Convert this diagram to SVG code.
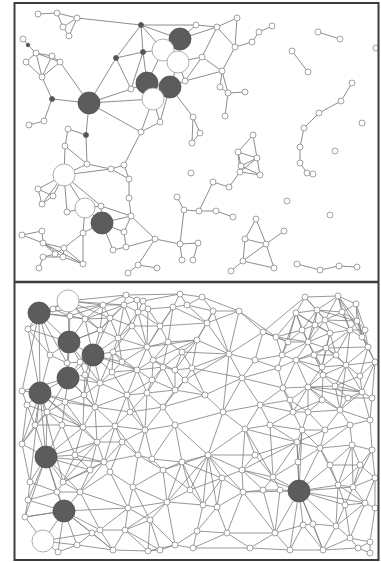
<svg xmlns="http://www.w3.org/2000/svg" width="381" height="563" viewBox="0 0 381 563">
<style>
.e{fill:none;stroke:#7e7e7e;stroke-width:0.8}
.et{fill:none;stroke:#808080;stroke-width:0.9}
.nodes circle{fill:#fff;stroke:#8a8a8a;stroke-width:0.8}
.nodes circle.d{fill:#555;stroke:#555}
.nodes circle.L{fill:#5c5c5c;stroke:#505050}
.nodes circle.W{fill:#fff;stroke:#9a9a9a}
.frame{fill:none;stroke:#3c3c3c;stroke-width:2}
</style>
<rect width="381" height="563" fill="#fff"/>
<g id="connectors">
<path class="et" d="M38 14L57 13 M57 13L63 27 M57 13L77 18 M63 27L77 18 M63 27L69 36 M69 36L77 18 M77 18L141 25
M141 25L116 58 M141 25L143 52 M141 25L163 50 M141 25L180 39 M141 25L196 25
M116 58L89 103 M116 58L143 52 M116 58L131 89
M143 52L131 89 M143 52L147 83 M143 52L163 50
M180 39L163 50 M180 39L178 62 M180 39L196 25 M180 39L217 27
M163 50L178 62 M163 50L147 83
M178 62L202 57 M178 62L170 87 M178 62L185 81
M147 83L170 87 M147 83L153 99 M147 83L131 89
M170 87L153 99 M170 87L185 81 M170 87L160 122 M170 87L193 117
M153 99L160 122 M153 99L141 132 M153 99L89 103
M131 89L89 103
M89 103L60 62 M89 103L52 99 M89 103L141 132 M89 103L86 135
M185 81L202 57 M185 81L222 71
M141 132L160 122 M141 132L124 165
M23 39L28 45 M28 45L36 53 M36 53L52 56 M36 53L26 62 M36 53L42 77 M36 53L60 62 M52 56L60 62 M52 56L42 77 M26 62L42 77 M60 62L42 77 M42 77L52 99
M52 99L44 121 M44 121L29 125
M68 129L86 135 M86 135L87 164 M68 129L65 146
M65 146L64 175 M65 146L87 164 M87 164L111 169 M87 164L64 175
M64 175L111 169 M64 175L38 189 M64 175L53 196 M64 175L42 204 M64 175L67 212 M64 175L85 208 M64 175L101 206
M38 189L53 196 M38 189L42 204 M53 196L42 204
M85 208L67 212 M85 208L101 206 M85 208L83 233 M85 208L102 223
M102 223L101 206 M102 223L131 216 M102 223L124 232 M102 223L113 250 M102 223L83 233
M101 206L131 216
M111 169L124 165 M124 165L129 179 M111 169L129 179 M129 179L129 198 M129 198L131 216 M131 216L124 232 M131 216L155 239 M124 232L126 247 M126 247L113 250 M126 247L155 239
M155 239L138 265 M155 239L180 244 M138 265L157 268 M138 265L128 273
M83 233L64 248 M83 233L83 264
M22 235L42 231 M22 235L43 243 M42 231L43 243 M43 243L64 248 M43 243L55 254 M43 243L63 257 M43 243L83 264 M55 254L64 248 M64 248L63 257 M43 257L55 254 M43 257L39 268 M43 257L63 257 M63 257L83 264 M64 248L83 264
M177 197L184 210 M184 210L199 211 M199 211L216 211 M216 211L233 217 M199 211L213 182 M213 182L229 187 M229 187L240 172 M184 210L180 244 M180 244L182 260 M180 244L198 243 M198 243L193 260
M253 135L238 152 M253 135L257 158 M238 152L257 158 M238 152L241 166 M257 158L241 166 M257 158L240 172 M241 166L260 175 M240 172L260 175 M257 158L260 175 M238 152L240 172
M196 25L217 27 M217 27L237 18 M217 27L235 47 M237 18L235 47 M235 47L252 42 M252 42L259 32 M259 32L272 26 M235 47L222 71 M222 71L202 57 M202 57L217 27 M222 71L220 87 M222 71L228 93 M220 87L228 93 M228 93L245 92 M228 93L225 116
M193 117L200 133 M200 133L192 143 M193 117L192 143
M256 219L245 239 M256 219L266 244 M245 239L266 244 M245 239L243 261 M266 244L284 231 M266 244L243 261 M266 244L274 268 M243 261L274 268 M243 261L231 271
M297 264L320 270 M320 270L339 266 M339 266L357 267
M352 83L341 101 M341 101L319 113 M319 113L304 128 M304 128L300 147 M300 147L300 163 M300 163L307 173 M307 173L313 174
M318 32L340 39 M292 51L308 72"/>
<path class="e" d="M39 313L68 301 M39 313L53 309 M39 313L28 329 M39 313L70 316 M39 313L69 342 M39 313L50 355 M39 313L40 393 M39 313L22 391 M39 313L67 363
M68 301L53 309 M68 301L70 316 M68 301L103 305 M68 301L85 319 M68 301L126 295
M53 309L70 316 M53 309L28 329
M70 316L85 319 M70 316L69 342 M70 316L103 305
M85 319L103 305 M85 319L100 330 M85 319L69 342 M85 319L93 355 M85 319L124 305
M103 305L124 305 M103 305L126 295 M103 305L100 330
M124 305L126 295 M124 305L137 300 M124 305L138 312 M124 305L100 330 M124 305L118 338
M126 295L137 300 M126 295L180 294
M137 300L143 301 M137 300L138 312
M143 301L148 309 M143 301L138 312 M143 301L180 294
M138 312L148 309 M138 312L118 338 M138 312L147 347
M148 309L173 307 M148 309L147 347
M173 307L180 294 M173 307L187 305 M173 307L147 347 M173 307L207 323
M180 294L187 305 M180 294L202 297
M187 305L202 297 M187 305L213 311 M187 305L207 323
M202 297L213 311 M202 297L239 311
M213 311L239 311 M213 311L207 323 M213 311L197 340
M239 311L263 332 M239 311L276 337 M239 311L207 323 M239 311L229 354
M28 329L69 342 M28 329L50 355 M28 329L40 393
M100 330L118 338 M100 330L93 355 M100 330L69 342
M118 338L113 352 M118 338L147 347 M118 338L93 355
M147 347L153 360 M147 347L113 352 M147 347L137 370 M147 347L197 340
M50 355L69 342 M50 355L67 363 M50 355L40 393
M113 352L93 355 M113 352L137 370 M113 352L100 383
M69 342L93 355 M69 342L67 363 M69 342L80 362
M93 355L80 362 M93 355L85 375 M93 355L100 383 M93 355L137 370
M207 323L197 340 M207 323L229 354
M197 340L192 368 M197 340L175 370 M197 340L229 354 M197 340L153 360
M263 332L276 337 M263 332L229 354 M263 332L255 360 M263 332L305 297
M276 337L282 355 M276 337L296 313 M276 337L308 342
M229 354L255 360 M229 354L242 378 M229 354L192 368
M305 297L338 296 M305 297L296 313 M305 297L317 310 M305 297L325 320
M338 296L317 310 M338 296L325 320 M338 296L357 321 M338 296L350 330 M338 296L362 337
M296 313L317 310 M296 313L308 342 M296 313L282 355 M296 313L330 333
M317 310L325 320 M317 310L308 342 M317 310L357 321
M325 320L330 333 M325 320L350 330 M325 320L308 342 M325 320L357 321
M357 321L350 330 M357 321L362 337 M357 321L368 347
M330 333L350 330 M330 333L308 342 M330 333L326 348 M330 333L322 367
M350 330L362 337 M350 330L326 348 M350 330L346 365
M362 337L368 347 M362 337L375 362
M368 347L375 362 M368 347L346 365 M368 347L326 348
M375 362L362 392 M375 362L346 365
M308 342L326 348 M308 342L296 360 M308 342L282 355 M308 342L322 367
M326 348L322 367 M326 348L346 365 M326 348L296 360
M282 355L278 368 M282 355L296 360 M282 355L255 360
M278 368L296 360 M278 368L283 388 M278 368L255 360 M278 368L242 378
M296 360L322 367 M296 360L308 387 M296 360L323 375 M296 360L283 388
M322 367L346 365 M322 367L323 375 M322 367L308 387
M346 365L362 392 M346 365L323 375 M346 365L340 410
M323 375L308 387 M323 375L362 392
M283 388L308 387 M283 388L293 412 M283 388L242 378 M283 388L260 405
M308 387L308 412 M308 387L362 392 M308 387L340 410 M308 387L293 412
M362 392L340 410 M362 392L370 420
M293 412L308 412 M293 412L260 405 M293 412L302 430 M293 412L270 425
M308 412L340 410 M308 412L325 430 M308 412L302 430
M80 362L85 375 M80 362L68 378 M67 363L68 378 M67 363L80 362
M137 370L153 360 M137 370L127 395 M137 370L100 383 M137 370L163 367 M137 370L147 393
M153 360L163 367 M153 360L175 370
M163 367L175 370 M163 367L175 390 M163 367L147 393
M175 370L185 380 M175 370L192 368 M175 370L175 390
M185 380L175 390 M185 380L192 368 M185 380L205 395 M185 380L163 407
M100 383L85 375 M100 383L127 395 M100 383L95 407 M100 383L68 378
M85 375L68 378 M85 375L95 407
M68 378L40 393 M68 378L65 402 M68 378L95 407 M68 378L22 391
M40 393L22 391 M40 393L65 402 M40 393L47 412 M40 393L27 405 M40 393L46 457 M40 393L22 444 M40 393L83 427
M192 368L205 395 M192 368L242 378
M255 360L242 378
M242 378L223 412 M242 378L205 395 M242 378L260 405
M65 402L47 412 M65 402L95 407 M65 402L83 427
M127 395L147 393 M127 395L95 407 M127 395L115 426 M127 395L145 430
M147 393L163 407 M147 393L175 390 M147 393L145 430
M163 407L175 390 M163 407L175 425 M163 407L145 430 M163 407L205 395
M175 390L205 395
M95 407L83 427 M95 407L115 426 M95 407L97 442
M47 412L27 405 M47 412L83 427 M47 412L22 444 M47 412L46 457
M27 405L22 444 M27 405L22 391
M223 412L205 395 M223 412L260 405 M223 412L245 429 M223 412L175 425 M223 412L208 455
M260 405L270 425 M260 405L245 429
M340 410L350 425 M340 410L370 420 M340 410L325 430
M370 420L350 425 M370 420L372 450
M350 425L325 430 M350 425L352 445 M350 425L320 448
M175 425L145 430 M175 425L182 462 M175 425L208 455 M175 425L152 459
M145 430L115 426 M145 430L138 455 M145 430L152 459
M270 425L245 429 M270 425L302 430 M270 425L297 442 M270 425L273 477
M325 430L302 430 M325 430L320 448 M325 430L297 442
M83 427L97 442 M83 427L46 457 M83 427L115 426
M115 426L97 442 M115 426L138 455 M115 426L104 462
M22 444L46 457 M22 444L30 482
M97 442L104 462 M97 442L46 457 M97 442L63 482
M104 462L110 472 M104 462L138 455 M104 462L63 482 M104 462L80 492
M110 472L133 487 M110 472L80 492 M110 472L128 508
M138 455L152 459 M138 455L133 487 M138 455L163 470
M152 459L163 470 M152 459L182 462
M182 462L163 470 M182 462L208 455 M182 462L167 502 M182 462L203 505
M163 470L133 487 M163 470L167 502
M245 429L208 455 M245 429L242 470 M245 429L297 442 M245 429L273 477
M302 430L297 442 M302 430L320 448
M297 442L273 477 M297 442L299 491 M297 442L242 470 M297 442L320 448
M208 455L242 470 M208 455L243 492 M208 455L203 505 M208 455L217 507 M208 455L167 502 M208 455L163 470
M242 470L273 477 M242 470L243 492 M242 470L263 490 M242 470L299 491
M273 477L263 490 M273 477L280 490 M273 477L299 491
M320 448L352 445 M320 448L299 491 M320 448L338 485
M352 445L372 450 M352 445L338 485 M352 445L353 487
M372 450L375 478 M372 450L353 487
M46 457L30 482 M46 457L63 482 M46 457L57 492 M46 457L28 500 M46 457L64 511
M30 482L28 500 M30 482L57 492
M63 482L57 492 M63 482L80 492
M57 492L64 511 M57 492L28 500 M57 492L80 492
M80 492L64 511 M80 492L128 508 M80 492L100 530
M133 487L128 508 M133 487L167 502
M167 502L128 508 M167 502L203 505 M167 502L175 545 M167 502L125 530
M128 508L125 530 M128 508L100 530
M28 500L25 517 M28 500L64 511
M25 517L43 541 M25 517L64 511
M243 492L263 490 M243 492L217 507 M243 492L227 533 M243 492L275 533
M263 490L280 490 M263 490L275 533
M280 490L299 491 M280 490L275 533
M203 505L217 507 M203 505L197 531
M217 507L227 533 M217 507L197 531
M299 491L338 485 M299 491L303 525 M299 491L313 524 M299 491L275 533 M299 491L336 526
M338 485L353 487 M338 485L365 503 M338 485L336 526
M353 487L375 478 M353 487L365 503
M375 478L375 508 M375 478L365 503
M365 503L375 508 M365 503L350 538 M365 503L336 526
M375 508L370 542
M64 511L43 541 M64 511L92 533 M64 511L77 545 M64 511L58 552 M64 511L100 530
M100 530L92 533 M100 530L125 530 M100 530L113 550
M92 533L77 545 M92 533L113 550
M125 530L113 550 M125 530L148 551 M125 530L160 550
M77 545L58 552 M77 545L113 550
M113 550L148 551
M148 551L160 550 M148 551L175 545
M58 552L43 541
M175 545L160 550 M175 545L197 531 M175 545L193 548
M197 531L227 533 M197 531L193 548
M227 533L275 533 M227 533L250 548 M227 533L193 548
M275 533L303 525 M275 533L290 550 M275 533L250 548
M303 525L313 524 M303 525L290 550 M303 525L323 550
M313 524L336 526 M313 524L323 550
M336 526L350 538 M336 526L323 550
M350 538L370 542 M350 538L358 548 M350 538L323 550
M370 542L370 553 M370 542L358 548
M323 550L358 548 M323 550L290 550
M358 548L370 553
M193 548L250 548
M250 548L290 550
M43 541L77 545"/>
<path class="e" d="M110 318L103 305 M110 318L124 305 M110 318L100 330 M110 318L118 338 M110 318L85 319 M110 318L132 326 M110 318L93 355 M110 318L68 301
M132 326L138 312 M132 326L118 338 M132 326L147 347 M132 326L160 326 M132 326L124 305 M132 326L113 352
M160 326L148 309 M160 326L173 307 M160 326L168 342 M160 326L147 347 M160 326L207 323 M160 326L138 312
M168 342L147 347 M168 342L182 352 M168 342L153 360 M168 342L163 367 M168 342L197 340 M168 342L173 307
M182 352L197 340 M182 352L175 370 M182 352L192 368 M182 352L163 367 M182 352L229 354
M122 362L113 352 M122 362L137 370 M122 362L112 372 M122 362L147 347 M122 362L93 355 M122 362L118 338
M152 380L137 370 M152 380L163 367 M152 380L147 393 M152 380L175 390 M152 380L153 360 M152 380L127 395
M112 372L100 383 M112 372L113 352 M112 372L127 395 M112 372L93 355 M112 372L137 370
M84 395L68 378 M84 395L100 383 M84 395L95 407 M84 395L65 402 M84 395L85 375 M84 395L83 427
M130 412L127 395 M130 412L95 407 M130 412L115 426 M130 412L145 430 M130 412L163 407 M130 412L147 393
M62 425L47 412 M62 425L65 402 M62 425L83 427 M62 425L46 457 M62 425L35 425 M62 425L75 455
M75 455L46 457 M75 455L83 427 M75 455L97 442 M75 455L104 462 M75 455L63 482 M75 455L90 470
M90 470L104 462 M90 470L63 482 M90 470L80 492 M90 470L97 442 M90 470L46 457
M122 442L115 426 M122 442L97 442 M122 442L104 462 M122 442L138 455 M122 442L145 430 M122 442L110 472
M35 425L47 412 M35 425L22 444 M35 425L40 393 M35 425L46 457 M35 425L27 405
M315 325L317 310 M315 325L325 320 M315 325L296 313 M315 325L308 342 M315 325L330 333 M315 325L302 330
M342 312L338 296 M342 312L317 310 M342 312L325 320 M342 312L357 321 M342 312L350 330 M342 312L356 304
M356 304L338 296 M356 304L357 321 M356 304L362 337 M356 304L365 330
M302 330L296 313 M302 330L308 342 M302 330L288 342 M302 330L276 337 M302 330L317 310
M288 342L276 337 M288 342L282 355 M288 342L308 342 M288 342L296 313 M288 342L263 332
M336 355L326 348 M336 355L346 365 M336 355L322 367 M336 355L330 333 M336 355L350 330 M336 355L314 355
M314 355L308 342 M314 355L326 348 M314 355L296 360 M314 355L322 367 M314 355L323 375
M360 376L346 365 M360 376L362 392 M360 376L375 362 M360 376L368 347 M360 376L335 386
M335 386L323 375 M335 386L346 365 M335 386L362 392 M335 386L308 387 M335 386L340 410 M335 386L348 398
M348 398L362 392 M348 398L340 410 M348 398L308 387 M348 398L372 398
M322 400L308 387 M322 400L308 412 M322 400L340 410 M322 400L323 375 M322 400L293 412
M290 400L283 388 M290 400L293 412 M290 400L308 387 M290 400L260 405 M290 400L308 412
M372 398L362 392 M372 398L370 420 M372 398L375 362
M365 330L357 321 M365 330L362 337 M365 330L368 347 M365 330L350 330
M298 462L297 442 M298 462L320 448 M298 462L299 491 M298 462L273 477 M298 462L302 430
M330 465L320 448 M330 465L352 445 M330 465L338 485 M330 465L299 491 M330 465L360 465
M360 465L352 445 M360 465L372 450 M360 465L353 487 M360 465L375 478 M360 465L338 485
M345 505L338 485 M345 505L365 503 M345 505L336 526 M345 505L353 487 M345 505L299 491 M345 505L350 538
M222 478L208 455 M222 478L242 470 M222 478L243 492 M222 478L217 507 M222 478L203 505 M222 478L182 462
M255 455L245 429 M255 455L242 470 M255 455L273 477 M255 455L297 442 M255 455L208 455
M190 490L182 462 M190 490L167 502 M190 490L203 505 M190 490L208 455 M190 490L222 478 M190 490L163 470
M150 520L167 502 M150 520L128 508 M150 520L125 530 M150 520L148 551 M150 520L160 550 M150 520L175 545 M150 520L133 487
M39 313L103 305 M39 313L85 319 M68 301L124 305 M68 301L100 330 M68 301L69 342
M69 342L100 383 M69 342L68 378 M69 342L100 330
M93 355L68 378 M93 355L84 395
M68 378L47 412
M40 393L30 482 M40 393L63 482 M40 393L97 442 M40 393L95 407
M46 457L80 492 M46 457L104 462 M46 457L25 517
M64 511L128 508 M64 511L25 517 M64 511L113 550
M299 491L243 492 M299 491L302 430 M299 491L365 503 M299 491L323 550 M299 491L290 550 M299 491L353 487
M43 541L92 533
M229 354L213 311 M229 354L223 412 M229 354L185 380"/>
</g>
<g class="nodes">
<g id="t1"><circle cx="38" cy="14" r="3"/></g>
<g id="t2"><circle cx="57" cy="13" r="3"/></g>
<g id="t3"><circle cx="77" cy="18" r="3"/></g>
<g id="t4"><circle cx="63" cy="27" r="3"/></g>
<g id="t5"><circle cx="69" cy="36" r="3"/></g>
<g id="t6"><circle cx="23" cy="39" r="3"/></g>
<g id="t7"><circle cx="36" cy="53" r="3"/></g>
<g id="t8"><circle cx="52" cy="56" r="3"/></g>
<g id="t9"><circle cx="60" cy="62" r="3"/></g>
<g id="t10"><circle cx="26" cy="62" r="3"/></g>
<g id="t11"><circle cx="42" cy="77" r="3"/></g>
<g id="t12"><circle cx="44" cy="121" r="3"/></g>
<g id="t13"><circle cx="29" cy="125" r="3"/></g>
<g id="t14"><circle cx="68" cy="129" r="3"/></g>
<g id="t15"><circle cx="65" cy="146" r="3"/></g>
<g id="t16"><circle cx="87" cy="164" r="3"/></g>
<g id="t17"><circle cx="111" cy="169" r="3"/></g>
<g id="t18"><circle cx="124" cy="165" r="3"/></g>
<g id="t19"><circle cx="129" cy="179" r="3"/></g>
<g id="t20"><circle cx="129" cy="198" r="3"/></g>
<g id="t21"><circle cx="131" cy="216" r="3"/></g>
<g id="t22"><circle cx="38" cy="189" r="3"/></g>
<g id="t23"><circle cx="53" cy="196" r="3"/></g>
<g id="t24"><circle cx="42" cy="204" r="3"/></g>
<g id="t25"><circle cx="67" cy="212" r="3"/></g>
<g id="t26"><circle cx="101" cy="206" r="3"/></g>
<g id="t27"><circle cx="83" cy="233" r="3"/></g>
<g id="t28"><circle cx="124" cy="232" r="3"/></g>
<g id="t29"><circle cx="126" cy="247" r="3"/></g>
<g id="t30"><circle cx="113" cy="250" r="3"/></g>
<g id="t31"><circle cx="155" cy="239" r="3"/></g>
<g id="t32"><circle cx="138" cy="265" r="3"/></g>
<g id="t33"><circle cx="157" cy="268" r="3"/></g>
<g id="t34"><circle cx="128" cy="273" r="3"/></g>
<g id="t35"><circle cx="22" cy="235" r="3"/></g>
<g id="t36"><circle cx="42" cy="231" r="3"/></g>
<g id="t37"><circle cx="43" cy="243" r="3"/></g>
<g id="t38"><circle cx="64" cy="248" r="3"/></g>
<g id="t39"><circle cx="43" cy="257" r="3"/></g>
<g id="t40"><circle cx="55" cy="254" r="3"/></g>
<g id="t41"><circle cx="63" cy="257" r="3"/></g>
<g id="t42"><circle cx="83" cy="264" r="3"/></g>
<g id="t43"><circle cx="39" cy="268" r="3"/></g>
<g id="t44"><circle cx="131" cy="89" r="3"/></g>
<g id="t45"><circle cx="185" cy="81" r="3"/></g>
<g id="t46"><circle cx="160" cy="122" r="3"/></g>
<g id="t47"><circle cx="141" cy="132" r="3"/></g>
<g id="t48"><circle cx="196" cy="25" r="3"/></g>
<g id="t49"><circle cx="217" cy="27" r="3"/></g>
<g id="t50"><circle cx="237" cy="18" r="3"/></g>
<g id="t51"><circle cx="235" cy="47" r="3"/></g>
<g id="t52"><circle cx="252" cy="42" r="3"/></g>
<g id="t53"><circle cx="259" cy="32" r="3"/></g>
<g id="t54"><circle cx="272" cy="26" r="3"/></g>
<g id="t55"><circle cx="202" cy="57" r="3"/></g>
<g id="t56"><circle cx="222" cy="71" r="3"/></g>
<g id="t57"><circle cx="220" cy="87" r="3"/></g>
<g id="t58"><circle cx="228" cy="93" r="3"/></g>
<g id="t59"><circle cx="245" cy="92" r="3"/></g>
<g id="t60"><circle cx="225" cy="116" r="3"/></g>
<g id="t61"><circle cx="193" cy="117" r="3"/></g>
<g id="t62"><circle cx="200" cy="133" r="3"/></g>
<g id="t63"><circle cx="192" cy="143" r="3"/></g>
<g id="t64"><circle cx="253" cy="135" r="3"/></g>
<g id="t65"><circle cx="238" cy="152" r="3"/></g>
<g id="t66"><circle cx="257" cy="158" r="3"/></g>
<g id="t67"><circle cx="241" cy="166" r="3"/></g>
<g id="t68"><circle cx="240" cy="172" r="3"/></g>
<g id="t69"><circle cx="260" cy="175" r="3"/></g>
<g id="t70"><circle cx="213" cy="182" r="3"/></g>
<g id="t71"><circle cx="229" cy="187" r="3"/></g>
<g id="t72"><circle cx="177" cy="197" r="3"/></g>
<g id="t73"><circle cx="184" cy="210" r="3"/></g>
<g id="t74"><circle cx="199" cy="211" r="3"/></g>
<g id="t75"><circle cx="216" cy="211" r="3"/></g>
<g id="t76"><circle cx="233" cy="217" r="3"/></g>
<g id="t77"><circle cx="180" cy="244" r="3"/></g>
<g id="t78"><circle cx="182" cy="260" r="3"/></g>
<g id="t79"><circle cx="198" cy="243" r="3"/></g>
<g id="t80"><circle cx="193" cy="260" r="3"/></g>
<g id="t81"><circle cx="191" cy="173" r="3"/></g>
<g id="t82"><circle cx="256" cy="219" r="3"/></g>
<g id="t83"><circle cx="245" cy="239" r="3"/></g>
<g id="t84"><circle cx="284" cy="231" r="3"/></g>
<g id="t85"><circle cx="266" cy="244" r="3"/></g>
<g id="t86"><circle cx="243" cy="261" r="3"/></g>
<g id="t87"><circle cx="231" cy="271" r="3"/></g>
<g id="t88"><circle cx="274" cy="268" r="3"/></g>
<g id="t89"><circle cx="297" cy="264" r="3"/></g>
<g id="t90"><circle cx="320" cy="270" r="3"/></g>
<g id="t91"><circle cx="339" cy="266" r="3"/></g>
<g id="t92"><circle cx="357" cy="267" r="3"/></g>
<g id="t93"><circle cx="300" cy="147" r="3"/></g>
<g id="t94"><circle cx="300" cy="163" r="3"/></g>
<g id="t95"><circle cx="307" cy="173" r="3"/></g>
<g id="t96"><circle cx="313" cy="174" r="3"/></g>
<g id="t97"><circle cx="304" cy="128" r="3"/></g>
<g id="t98"><circle cx="319" cy="113" r="3"/></g>
<g id="t99"><circle cx="341" cy="101" r="3"/></g>
<g id="t100"><circle cx="352" cy="83" r="3"/></g>
<g id="t101"><circle cx="318" cy="32" r="3"/></g>
<g id="t102"><circle cx="340" cy="39" r="3"/></g>
<g id="t103"><circle cx="292" cy="51" r="3"/></g>
<g id="t104"><circle cx="308" cy="72" r="3"/></g>
<g id="t105"><circle cx="376" cy="48" r="3"/></g>
<g id="t106"><circle cx="362" cy="123" r="3"/></g>
<g id="t107"><circle cx="335" cy="151" r="3"/></g>
<g id="t108"><circle cx="287" cy="201" r="3"/></g>
<g id="t109"><circle cx="330" cy="215" r="3"/></g>
<g id="t110"><circle class="d" cx="141" cy="25" r="2.5"/></g>
<g id="t111"><circle class="d" cx="116" cy="58" r="2.5"/></g>
<g id="t112"><circle class="d" cx="143" cy="52" r="2.5"/></g>
<g id="t113"><circle class="d" cx="52" cy="99" r="2.5"/></g>
<g id="t114"><circle class="d" cx="86" cy="135" r="2.5"/></g>
<g id="t115"><circle class="d" cx="28" cy="45" r="1.8"/></g>
<g id="t116"><circle class="L" cx="180" cy="39" r="11"/></g>
<g id="t117"><circle class="W" cx="163" cy="50" r="11"/></g>
<g id="t118"><circle class="W" cx="178" cy="62" r="11"/></g>
<g id="t119"><circle class="L" cx="147" cy="83" r="11"/></g>
<g id="t120"><circle class="L" cx="170" cy="87" r="11"/></g>
<g id="t121"><circle class="W" cx="153" cy="99" r="11"/></g>
<g id="t122"><circle class="L" cx="89" cy="103" r="11"/></g>
<g id="t123"><circle class="W" cx="64" cy="175" r="11"/></g>
<g id="t124"><circle class="W" cx="85" cy="208" r="10"/></g>
<g id="t125"><circle class="L" cx="102" cy="223" r="11"/></g>
<g id="b1"><circle cx="126" cy="295" r="3"/></g>
<g id="b2"><circle cx="103" cy="305" r="3"/></g>
<g id="b3"><circle cx="124" cy="305" r="3"/></g>
<g id="b4"><circle cx="137" cy="300" r="3"/></g>
<g id="b5"><circle cx="143" cy="301" r="3"/></g>
<g id="b6"><circle cx="138" cy="312" r="3"/></g>
<g id="b7"><circle cx="148" cy="309" r="3"/></g>
<g id="b8"><circle cx="173" cy="307" r="3"/></g>
<g id="b9"><circle cx="180" cy="294" r="3"/></g>
<g id="b10"><circle cx="187" cy="305" r="3"/></g>
<g id="b11"><circle cx="202" cy="297" r="3"/></g>
<g id="b12"><circle cx="213" cy="311" r="3"/></g>
<g id="b13"><circle cx="239" cy="311" r="3"/></g>
<g id="b14"><circle cx="53" cy="309" r="3"/></g>
<g id="b15"><circle cx="70" cy="316" r="3"/></g>
<g id="b16"><circle cx="85" cy="319" r="3"/></g>
<g id="b17"><circle cx="305" cy="297" r="3"/></g>
<g id="b18"><circle cx="338" cy="296" r="3"/></g>
<g id="b19"><circle cx="296" cy="313" r="3"/></g>
<g id="b20"><circle cx="317" cy="310" r="3"/></g>
<g id="b21"><circle cx="325" cy="320" r="3"/></g>
<g id="b22"><circle cx="357" cy="321" r="3"/></g>
<g id="b23"><circle cx="330" cy="333" r="3"/></g>
<g id="b24"><circle cx="350" cy="330" r="3"/></g>
<g id="b25"><circle cx="362" cy="337" r="3"/></g>
<g id="b26"><circle cx="368" cy="347" r="3"/></g>
<g id="b27"><circle cx="375" cy="362" r="3"/></g>
<g id="b28"><circle cx="28" cy="329" r="3"/></g>
<g id="b29"><circle cx="100" cy="330" r="3"/></g>
<g id="b30"><circle cx="118" cy="338" r="3"/></g>
<g id="b31"><circle cx="147" cy="347" r="3"/></g>
<g id="b32"><circle cx="50" cy="355" r="3"/></g>
<g id="b33"><circle cx="113" cy="352" r="3"/></g>
<g id="b34"><circle cx="207" cy="323" r="3"/></g>
<g id="b35"><circle cx="197" cy="340" r="3"/></g>
<g id="b36"><circle cx="263" cy="332" r="3"/></g>
<g id="b37"><circle cx="276" cy="337" r="3"/></g>
<g id="b38"><circle cx="229" cy="354" r="3"/></g>
<g id="b39"><circle cx="308" cy="342" r="3"/></g>
<g id="b40"><circle cx="326" cy="348" r="3"/></g>
<g id="b41"><circle cx="80" cy="362" r="3"/></g>
<g id="b42"><circle cx="67" cy="363" r="3"/></g>
<g id="b43"><circle cx="137" cy="370" r="3"/></g>
<g id="b44"><circle cx="153" cy="360" r="3"/></g>
<g id="b45"><circle cx="163" cy="367" r="3"/></g>
<g id="b46"><circle cx="175" cy="370" r="3"/></g>
<g id="b47"><circle cx="185" cy="380" r="3"/></g>
<g id="b48"><circle cx="100" cy="383" r="3"/></g>
<g id="b49"><circle cx="85" cy="375" r="3"/></g>
<g id="b51"><circle cx="192" cy="368" r="3"/></g>
<g id="b52"><circle cx="255" cy="360" r="3"/></g>
<g id="b53"><circle cx="242" cy="378" r="3"/></g>
<g id="b54"><circle cx="282" cy="355" r="3"/></g>
<g id="b55"><circle cx="278" cy="368" r="3"/></g>
<g id="b56"><circle cx="296" cy="360" r="3"/></g>
<g id="b57"><circle cx="322" cy="367" r="3"/></g>
<g id="b58"><circle cx="346" cy="365" r="3"/></g>
<g id="b59"><circle cx="323" cy="375" r="3"/></g>
<g id="b60"><circle cx="22" cy="391" r="3"/></g>
<g id="b61"><circle cx="65" cy="402" r="3"/></g>
<g id="b62"><circle cx="127" cy="395" r="3"/></g>
<g id="b63"><circle cx="147" cy="393" r="3"/></g>
<g id="b64"><circle cx="163" cy="407" r="3"/></g>
<g id="b65"><circle cx="175" cy="390" r="3"/></g>
<g id="b66"><circle cx="95" cy="407" r="3"/></g>
<g id="b67"><circle cx="47" cy="412" r="3"/></g>
<g id="b68"><circle cx="27" cy="405" r="3"/></g>
<g id="b69"><circle cx="283" cy="388" r="3"/></g>
<g id="b70"><circle cx="308" cy="387" r="3"/></g>
<g id="b71"><circle cx="362" cy="392" r="3"/></g>
<g id="b72"><circle cx="293" cy="412" r="3"/></g>
<g id="b73"><circle cx="308" cy="412" r="3"/></g>
<g id="b74"><circle cx="223" cy="412" r="3"/></g>
<g id="b75"><circle cx="205" cy="395" r="3"/></g>
<g id="b76"><circle cx="260" cy="405" r="3"/></g>
<g id="b77"><circle cx="340" cy="410" r="3"/></g>
<g id="b78"><circle cx="370" cy="420" r="3"/></g>
<g id="b79"><circle cx="350" cy="425" r="3"/></g>
<g id="b80"><circle cx="175" cy="425" r="3"/></g>
<g id="b81"><circle cx="145" cy="430" r="3"/></g>
<g id="b82"><circle cx="270" cy="425" r="3"/></g>
<g id="b83"><circle cx="325" cy="430" r="3"/></g>
<g id="b84"><circle cx="83" cy="427" r="3"/></g>
<g id="b85"><circle cx="115" cy="426" r="3"/></g>
<g id="b86"><circle cx="22" cy="444" r="3"/></g>
<g id="b87"><circle cx="97" cy="442" r="3"/></g>
<g id="b88"><circle cx="104" cy="462" r="3"/></g>
<g id="b90"><circle cx="110" cy="472" r="3"/></g>
<g id="b91"><circle cx="138" cy="455" r="3"/></g>
<g id="b92"><circle cx="152" cy="459" r="3"/></g>
<g id="b93"><circle cx="182" cy="462" r="3"/></g>
<g id="b94"><circle cx="163" cy="470" r="3"/></g>
<g id="b95"><circle cx="245" cy="429" r="3"/></g>
<g id="b96"><circle cx="302" cy="430" r="3"/></g>
<g id="b97"><circle cx="297" cy="442" r="3"/></g>
<g id="b98"><circle cx="208" cy="455" r="3"/></g>
<g id="b99"><circle cx="242" cy="470" r="3"/></g>
<g id="b100"><circle cx="273" cy="477" r="3"/></g>
<g id="b101"><circle cx="320" cy="448" r="3"/></g>
<g id="b102"><circle cx="352" cy="445" r="3"/></g>
<g id="b103"><circle cx="372" cy="450" r="3"/></g>
<g id="b104"><circle cx="30" cy="482" r="3"/></g>
<g id="b105"><circle cx="63" cy="482" r="3"/></g>
<g id="b106"><circle cx="57" cy="492" r="3"/></g>
<g id="b107"><circle cx="80" cy="492" r="3"/></g>
<g id="b108"><circle cx="133" cy="487" r="3"/></g>
<g id="b109"><circle cx="167" cy="502" r="3"/></g>
<g id="b110"><circle cx="128" cy="508" r="3"/></g>
<g id="b111"><circle cx="28" cy="500" r="3"/></g>
<g id="b112"><circle cx="25" cy="517" r="3"/></g>
<g id="b113"><circle cx="243" cy="492" r="3"/></g>
<g id="b114"><circle cx="263" cy="490" r="3"/></g>
<g id="b115"><circle cx="280" cy="490" r="3"/></g>
<g id="b116"><circle cx="203" cy="505" r="3"/></g>
<g id="b117"><circle cx="217" cy="507" r="3"/></g>
<g id="b118"><circle cx="338" cy="485" r="3"/></g>
<g id="b119"><circle cx="353" cy="487" r="3"/></g>
<g id="b120"><circle cx="375" cy="478" r="3"/></g>
<g id="b121"><circle cx="365" cy="503" r="3"/></g>
<g id="b122"><circle cx="375" cy="508" r="3"/></g>
<g id="b123"><circle cx="100" cy="530" r="3"/></g>
<g id="b124"><circle cx="92" cy="533" r="3"/></g>
<g id="b125"><circle cx="125" cy="530" r="3"/></g>
<g id="b126"><circle cx="77" cy="545" r="3"/></g>
<g id="b127"><circle cx="113" cy="550" r="3"/></g>
<g id="b128"><circle cx="148" cy="551" r="3"/></g>
<g id="b129"><circle cx="58" cy="552" r="3"/></g>
<g id="b130"><circle cx="175" cy="545" r="3"/></g>
<g id="b131"><circle cx="160" cy="550" r="3"/></g>
<g id="b132"><circle cx="197" cy="531" r="3"/></g>
<g id="b133"><circle cx="227" cy="533" r="3"/></g>
<g id="b134"><circle cx="275" cy="533" r="3"/></g>
<g id="b135"><circle cx="303" cy="525" r="3"/></g>
<g id="b136"><circle cx="313" cy="524" r="3"/></g>
<g id="b137"><circle cx="336" cy="526" r="3"/></g>
<g id="b138"><circle cx="350" cy="538" r="3"/></g>
<g id="b139"><circle cx="370" cy="542" r="3"/></g>
<g id="b140"><circle cx="323" cy="550" r="3"/></g>
<g id="b141"><circle cx="358" cy="548" r="3"/></g>
<g id="b142"><circle cx="370" cy="553" r="3"/></g>
<g id="b143"><circle cx="193" cy="548" r="3"/></g>
<g id="b144"><circle cx="250" cy="548" r="3"/></g>
<g id="b145"><circle cx="290" cy="550" r="3"/></g>
<g id="c1"><circle cx="110" cy="318" r="3"/></g>
<g id="c2"><circle cx="132" cy="326" r="3"/></g>
<g id="c3"><circle cx="160" cy="326" r="3"/></g>
<g id="c4"><circle cx="168" cy="342" r="3"/></g>
<g id="c5"><circle cx="182" cy="352" r="3"/></g>
<g id="c6"><circle cx="122" cy="362" r="3"/></g>
<g id="c7"><circle cx="152" cy="380" r="3"/></g>
<g id="c8"><circle cx="112" cy="372" r="3"/></g>
<g id="c9"><circle cx="84" cy="395" r="3"/></g>
<g id="c10"><circle cx="130" cy="412" r="3"/></g>
<g id="c11"><circle cx="62" cy="425" r="3"/></g>
<g id="c12"><circle cx="75" cy="455" r="3"/></g>
<g id="c13"><circle cx="90" cy="470" r="3"/></g>
<g id="c14"><circle cx="122" cy="442" r="3"/></g>
<g id="c15"><circle cx="35" cy="425" r="3"/></g>
<g id="c16"><circle cx="315" cy="325" r="3"/></g>
<g id="c17"><circle cx="342" cy="312" r="3"/></g>
<g id="c18"><circle cx="356" cy="304" r="3"/></g>
<g id="c19"><circle cx="302" cy="330" r="3"/></g>
<g id="c20"><circle cx="288" cy="342" r="3"/></g>
<g id="c21"><circle cx="336" cy="355" r="3"/></g>
<g id="c22"><circle cx="314" cy="355" r="3"/></g>
<g id="c23"><circle cx="360" cy="376" r="3"/></g>
<g id="c24"><circle cx="335" cy="386" r="3"/></g>
<g id="c25"><circle cx="348" cy="398" r="3"/></g>
<g id="c26"><circle cx="322" cy="400" r="3"/></g>
<g id="c27"><circle cx="290" cy="400" r="3"/></g>
<g id="c28"><circle cx="372" cy="398" r="3"/></g>
<g id="c29"><circle cx="365" cy="330" r="3"/></g>
<g id="c30"><circle cx="298" cy="462" r="3"/></g>
<g id="c31"><circle cx="330" cy="465" r="3"/></g>
<g id="c32"><circle cx="360" cy="465" r="3"/></g>
<g id="c33"><circle cx="345" cy="505" r="3"/></g>
<g id="c34"><circle cx="222" cy="478" r="3"/></g>
<g id="c35"><circle cx="255" cy="455" r="3"/></g>
<g id="c36"><circle cx="190" cy="490" r="3"/></g>
<g id="c37"><circle cx="150" cy="520" r="3"/></g>
<g id="b146"><circle class="L" cx="39" cy="313" r="11"/></g>
<g id="b147"><circle class="W" cx="68" cy="301" r="11"/></g>
<g id="b148"><circle class="L" cx="69" cy="342" r="11"/></g>
<g id="b149"><circle class="L" cx="93" cy="355" r="11"/></g>
<g id="b150"><circle class="L" cx="68" cy="378" r="11"/></g>
<g id="b151"><circle class="L" cx="40" cy="393" r="11"/></g>
<g id="b152"><circle class="L" cx="46" cy="457" r="11"/></g>
<g id="b153"><circle class="L" cx="64" cy="511" r="11"/></g>
<g id="b154"><circle class="W" cx="43" cy="541" r="11"/></g>
<g id="b155"><circle class="L" cx="299" cy="491" r="11"/></g>
</g>
<rect class="frame" x="14.5" y="3" width="364" height="557"/>
<line x1="14.5" y1="282" x2="378.5" y2="282" stroke="#3c3c3c" stroke-width="2.5"/>
</svg>
